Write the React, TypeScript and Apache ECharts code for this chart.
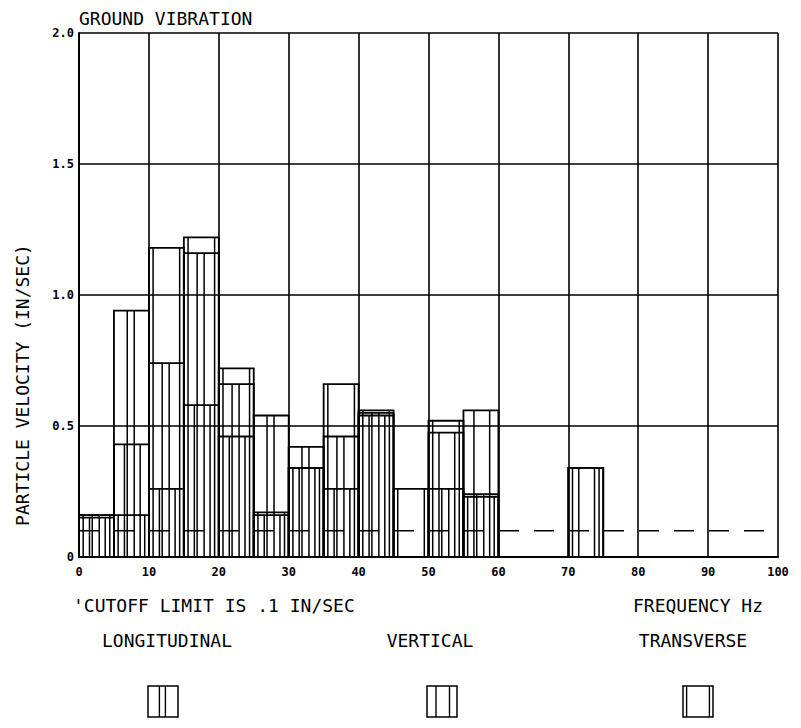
import React, { useEffect, useRef } from "react";
import * as echarts from "echarts";

const BIN_WIDTH = 5;
const BIN_STARTS = [0, 5, 10, 15, 20, 25, 30, 35, 40, 45, 50, 55, 60, 65, 70];
const LONGITUDINAL = [0.16, 0.94, 0.74, 1.16, 0.66, 0.54, 0.42, 0.46, 0.55, 0, 0.26, 0.24, 0, 0, 0];
const VERTICAL = [0.15, 0.43, 0.26, 0.58, 0.46, 0.16, 0.34, 0.26, 0.54, 0, 0.475, 0.56, 0, 0, 0.34];
const TRANSVERSE = [0.16, 0.16, 1.18, 1.22, 0.72, 0.17, 0.34, 0.66, 0.56, 0.26, 0.52, 0.23, 0, 0, 0.34];
const CUTOFF = 0.1;
const Y_TICK_LABELS: Record<string, string> = { "0": "0", "0.5": "0.5", "1": "1.0", "1.5": "1.5", "2": "2.0" };

const HATCH_L = [0.38, 0.58];
const HATCH_V = [0.3, 0.75];
const HATCH_T = [0.12, 0.88];

const FONT = "DejaVu Sans Mono";

function makeRender(offsets: number[]) {
  return (params: any, api: any) => {
    const start = api.value(0);
    const v = api.value(1);
    if (!v) return null;
    const p0 = api.coord([start, 0]);
    const p1 = api.coord([start + BIN_WIDTH, v]);
    const x0 = p0[0], y0 = p0[1], x1 = p1[0], y1 = p1[1];
    const w = x1 - x0;
    const children: any[] = [
      { type: "rect", shape: { x: x0, y: y1, width: w, height: y0 - y1 }, style: { fill: "none", stroke: "#000", lineWidth: 1.8 } },
    ];
    offsets.forEach((f) => {
      children.push({ type: "line", shape: { x1: x0 + w * f, y1: y1, x2: x0 + w * f, y2: y0 }, style: { stroke: "#000", lineWidth: 1.5 } });
    });
    return { type: "group", children };
  };
}

function legendBox(cx: number, offsets: number[]) {
  const w = 30, h = 31, top = 686;
  const x0 = cx - w / 2;
  const children: any[] = [
    { type: "rect", shape: { x: x0, y: top, width: w, height: h }, style: { fill: "none", stroke: "#000", lineWidth: 1.5 } },
  ];
  offsets.forEach((f) => {
    children.push({ type: "line", shape: { x1: x0 + w * f, y1: top, x2: x0 + w * f, y2: top + h }, style: { stroke: "#000", lineWidth: 1.4 } });
  });
  return { type: "group", children };
}

function txt(x: number, y: number, text: string, align: string = "left", extra: any = {}) {
  return {
    type: "text",
    x,
    y,
    style: { text, fill: "#000", font: `18px '${FONT}'`, textAlign: align, textVerticalAlign: "middle" },
    ...extra,
  };
}

export default function App() {
  const ref = useRef<HTMLDivElement>(null);
  useEffect(() => {
    const chart = echarts.init(ref.current!, undefined, { renderer: "svg" });
    const mk = (vals: number[]) => BIN_STARTS.map((b, i) => [b, vals[i]]);
    chart.setOption({
      animation: false,
      backgroundColor: "#fff",
      grid: { left: 79, top: 33, width: 699, height: 524 },
      xAxis: {
        type: "value",
        min: 0,
        max: 100,
        interval: 10,
        axisLine: { show: true, lineStyle: { color: "#000", width: 2 } },
        axisTick: { show: false },
        splitLine: { show: true, lineStyle: { color: "#000", width: 1.6 } },
        axisLabel: { color: "#000", fontFamily: FONT, fontWeight: "bold", fontSize: 12, margin: 9 },
      },
      yAxis: {
        type: "value",
        min: 0,
        max: 2,
        interval: 0.5,
        axisLine: { show: true, lineStyle: { color: "#000", width: 2 } },
        axisTick: { show: false },
        splitLine: { show: true, lineStyle: { color: "#000", width: 1.6 } },
        axisLabel: {
          color: "#000",
          fontFamily: FONT,
          fontWeight: "bold",
          fontSize: 12,
          margin: 5,
          formatter: (v: number) => Y_TICK_LABELS[String(v)] ?? String(v),
        },
      },
      series: [
        { name: "LONGITUDINAL", type: "custom", renderItem: makeRender(HATCH_L), encode: { x: 0, y: 1 }, data: mk(LONGITUDINAL), z: 3 },
        { name: "VERTICAL", type: "custom", renderItem: makeRender(HATCH_V), encode: { x: 0, y: 1 }, data: mk(VERTICAL), z: 3 },
        { name: "TRANSVERSE", type: "custom", renderItem: makeRender(HATCH_T), encode: { x: 0, y: 1 }, data: mk(TRANSVERSE), z: 3 },
        {
          name: "CUTOFF",
          type: "line",
          data: [[0, CUTOFF], [100, CUTOFF]],
          symbol: "none",
          lineStyle: { color: "#000", width: 1.6, type: [20, 15] },
          z: 4,
        },
      ],
      graphic: [
        txt(79, 18, "GROUND VIBRATION"),
        txt(22, 385, "PARTICLE VELOCITY (IN/SEC)", "center", { rotation: Math.PI / 2 }),
        txt(73, 605, "'CUTOFF LIMIT IS .1 IN/SEC"),
        txt(633, 605, "FREQUENCY Hz"),
        txt(167, 640, "LONGITUDINAL", "center"),
        txt(430, 640, "VERTICAL", "center"),
        txt(693, 640, "TRANSVERSE", "center"),
        legendBox(163, HATCH_L),
        legendBox(442, HATCH_V),
        legendBox(698, HATCH_T),
      ],
    });
    return () => chart.dispose();
  }, []);
  return <div ref={ref} style={{ position: "fixed", left: 0, top: 0, width: 801, height: 728 }} />;
}
